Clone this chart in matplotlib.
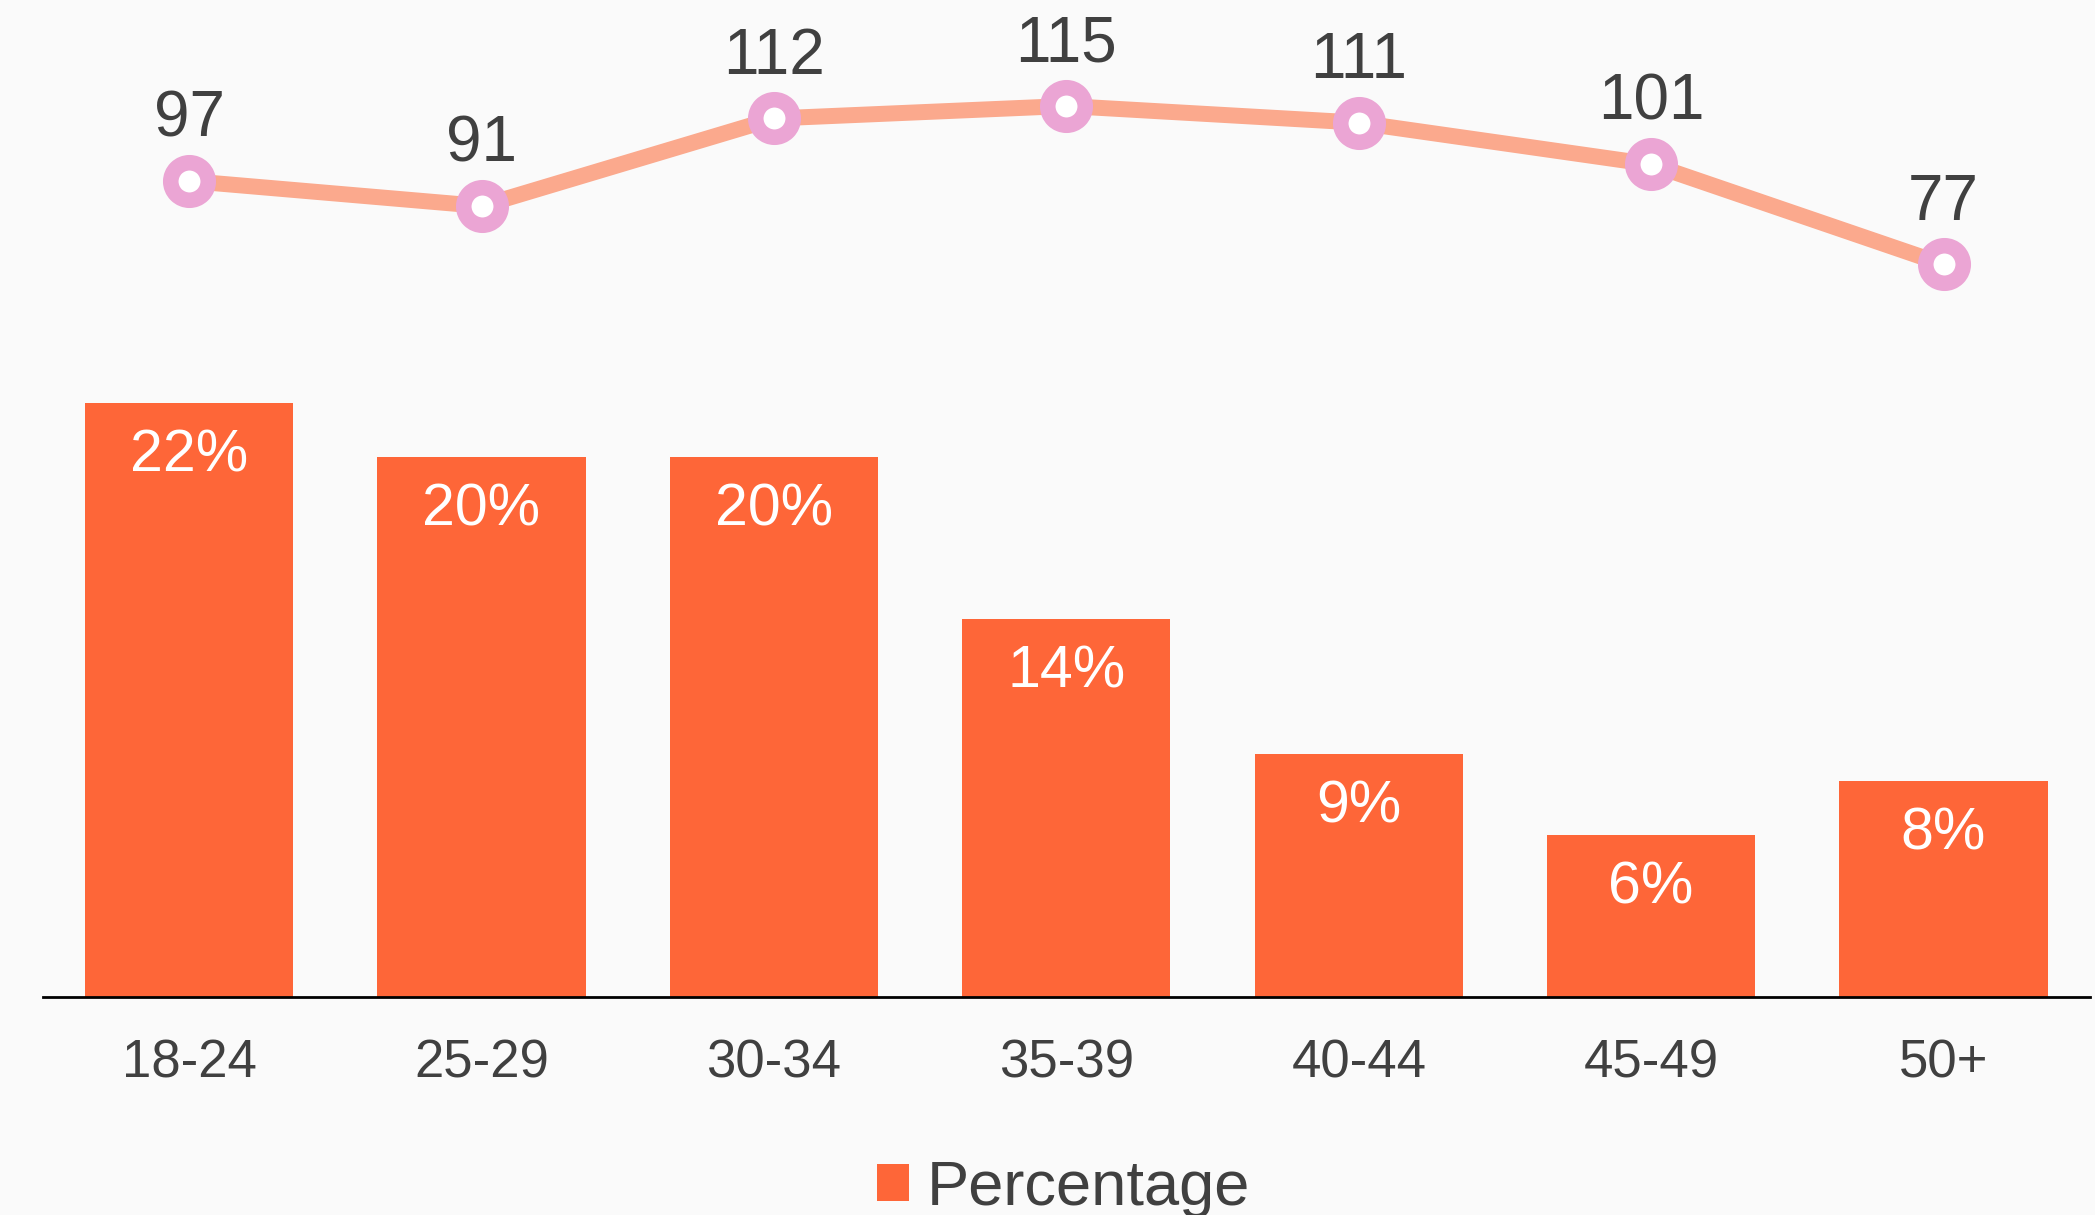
import matplotlib
matplotlib.use("Agg")
import matplotlib.pyplot as plt

categories = ["18-24", "25-29", "30-34", "35-39", "40-44", "45-49", "50+"]
percentages = [22, 20, 20, 14, 9, 6, 8]
index_values = [97, 91, 112, 115, 111, 101, 77]

BAR_COLOR = "#fe6638"
LINE_COLOR = "#fba98d"
MARKER_COLOR = "#eba5d4"
TEXT_COLOR = "#404040"
BG = "#fafafa"

plt.rcParams['font.family'] = ['Liberation Sans', 'DejaVu Sans']

fig = plt.figure(figsize=(20.95, 12.15), dpi=100, facecolor=BG)
ax = fig.add_axes([0.0205, 0.1793, 0.9770, 0.7767])
ax.set_facecolor('none')
x = list(range(len(categories)))

bars = ax.bar(x, percentages, width=0.712, color=BAR_COLOR, label="Percentage", zorder=2)
ax.set_xlim(-0.5, 6.5)
ax.set_ylim(0, 34.95)
ax.set_xticks(x)
ax.set_xticklabels(categories)
ax.tick_params(axis='x', length=0, pad=30, labelsize=38, labelcolor=TEXT_COLOR)
ax.set_yticks([])
for s in ['top', 'right', 'left']:
    ax.spines[s].set_visible(False)
ax.spines['bottom'].set_color('black')
ax.spines['bottom'].set_linewidth(2)
ax.spines['bottom'].set_zorder(3)

for xi, v in zip(x, percentages):
    ax.annotate(f"{v}%", (xi, v), xytext=(0, -49), textcoords='offset points',
                ha='center', va='baseline', fontsize=42.5, color='white', zorder=4)

ax2 = ax.twinx()
ax2.set_ylim(-98.8, 127.6)
ax2.plot(x, index_values, color=LINE_COLOR, linewidth=11.5, zorder=3,
         marker='o', markersize=27, markerfacecolor='white',
         markeredgecolor=MARKER_COLOR, markeredgewidth=11.2, solid_capstyle='butt')
for xi, v in zip(x, index_values):
    ax2.annotate(f"{v}", (xi, v), xytext=(0, 32), textcoords='offset points',
                 ha='center', va='baseline', fontsize=46, color=TEXT_COLOR)
ax2.set_yticks([])
for s in ax2.spines.values():
    s.set_visible(False)

leg = fig.legend(handles=[bars], labels=["Percentage"], loc='center',
                 bbox_to_anchor=(0.5077, 0.022), frameon=False, fontsize=45.5,
                 handlelength=0.51, handleheight=0.51, handletextpad=0.29,
                 borderpad=0.0)
for t in leg.get_texts():
    t.set_color(TEXT_COLOR)

fig.savefig("out.png", dpi=100, facecolor=BG)
